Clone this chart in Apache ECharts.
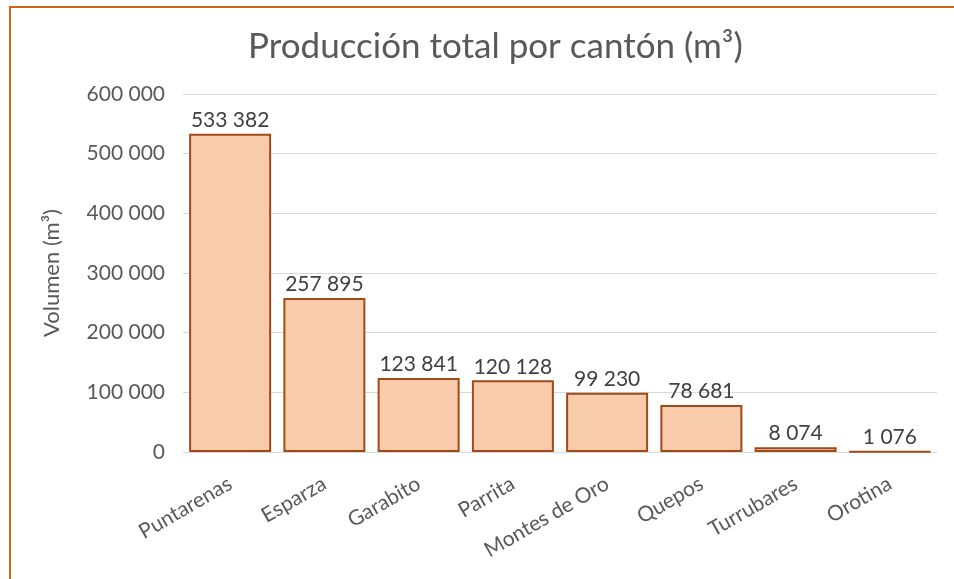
<!DOCTYPE html>
<html><head><meta charset="utf-8">
<script src="https://cdn.jsdelivr.net/npm/echarts@6/dist/echarts.min.js"></script>
<style>
html,body{margin:0;padding:0;background:#fff;}
#frame{position:absolute;left:9px;top:6px;width:945px;height:573px;border-top:2px solid #D0651F;border-left:2px solid #D0651F;box-sizing:border-box;}
#c{position:absolute;left:0;top:0;width:954px;height:579px;}
</style></head>
<body>
<div id="frame"></div>
<div id="c"></div>
<script>
const categories = ['Puntarenas','Esparza','Garabito','Parrita','Montes de Oro','Quepos','Turrubares','Orotina'];
const volumes = [533382, 257895, 123841, 120128, 99230, 78681, 8074, 1076];
const yTicks = [0, 100000, 200000, 300000, 400000, 500000, 600000];

const fmt = v => String(v).replace(/\B(?=(\d{3})+(?!\d))/g, ' ');
const FONT = 'Lato';
const chart = echarts.init(document.getElementById('c'), null, {renderer:'canvas'});
chart.setOption({
  backgroundColor: 'transparent',
  animation: false,
  title: {
    text: 'Producción total por cantón (m³)',
    left: 243, top: 24,
    textStyle: {fontFamily: FONT, fontSize: 35, fontWeight: 'normal', color: '#595959'}
  },
  grid: {left: 183, right: 17, top: 94, bottom: 127},
  xAxis: {
    type: 'category', data: categories,
    axisLine: {lineStyle: {color: '#D9D9D9', width: 1}},
    axisTick: {show: false},
    axisLabel: {rotate: 30, fontFamily: FONT, fontSize: 21, color: '#595959', margin: 30, interval: 0}
  },
  yAxis: {
    type: 'value', min: yTicks[0], max: yTicks[yTicks.length-1], interval: 100000,
    name: 'Volumen (m³)', nameLocation: 'middle', nameGap: 120,
    nameTextStyle: {fontFamily: FONT, fontSize: 22, color: '#595959'},
    axisLine: {show: false}, axisTick: {show: false},
    axisLabel: {fontFamily: FONT, fontSize: 21, color: '#595959', margin: 18, formatter: v => fmt(v)},
    splitLine: {lineStyle: {color: '#D9D9D9', width: 1}}
  },
  series: [{
    type: 'bar', data: volumes, barCategoryGap: '13%',
    itemStyle: {color: '#F8CBAD', borderColor: '#9E4A19', borderWidth: 2},
    label: {show: true, position: 'top', distance: 3, fontFamily: FONT, fontSize: 21, color: '#404040', formatter: p => fmt(p.value)}
  }]
});
</script>
</body></html>
